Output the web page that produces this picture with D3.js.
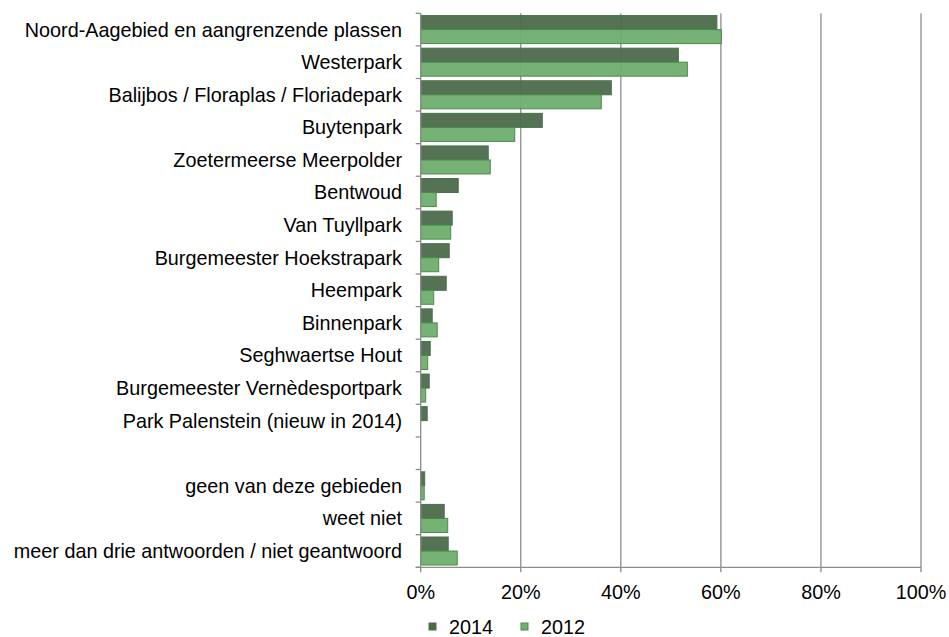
<!DOCTYPE html>
<html><head><meta charset="utf-8">
<script src="https://cdn.jsdelivr.net/npm/d3@7/dist/d3.min.js"></script>
<style>body{margin:0;background:#fff;} text{font-family:"Liberation Sans",Arial,sans-serif;}</style>
</head><body><svg id="c" width="949" height="637"></svg>
<script>
const categories = ["Noord-Aagebied en aangrenzende plassen","Westerpark","Balijbos / Floraplas / Floriadepark","Buytenpark","Zoetermeerse Meerpolder","Bentwoud","Van Tuyllpark","Burgemeester Hoekstrapark","Heempark","Binnenpark","Seghwaertse Hout","Burgemeester Vernèdesportpark","Park Palenstein (nieuw in 2014)","","geen van deze gebieden","weet niet","meer dan drie antwoorden / niet geantwoord"];
const values2014 = [59.2,51.5,38.1,24.3,13.5,7.5,6.3,5.7,5.1,2.3,1.9,1.7,1.3,null,0.8,4.7,5.5];
const values2012 = [60.1,53.3,36.1,18.8,13.9,3.1,6.0,3.6,2.6,3.3,1.4,1.0,0,null,0.7,5.4,7.3];
const seriesNames = ["2014","2012"];
const xTicks = [0,20,40,60,80,100];

const svg = d3.select("#c");
const pLeft = 420.7, pRight = 921, pTop = 13.3, pBottom = 567.3;
const fs = 19.8;
const x = d3.scaleLinear().domain([0,100]).range([pLeft,pRight]);
const keys = categories.map((c,i)=>"k"+i);
const y = d3.scaleBand().domain(keys).range([pTop,pBottom]).paddingInner(0.14).paddingOuter(0.07);
const yAll = d3.scaleBand().domain(keys).range([pTop,pBottom]);
const sub = d3.scaleBand().domain(seriesNames).range([0,y.bandwidth()]);
const colors = {"2014":"#4d6a4b","2012":"#6fae6e"};
const strokes = {"2014":"#46724a","2012":"#4a8c48"};

// gridlines
svg.append("g").selectAll("line").data(xTicks.filter(d=>d>0)).join("line")
  .attr("x1",d=>x(d)).attr("x2",d=>x(d)).attr("y1",pTop).attr("y2",pBottom)
  .attr("stroke","#8c8c8c").attr("stroke-width",1.3);

// bars
const series = [{name:"2014",vals:values2014},{name:"2012",vals:values2012}];
series.forEach(s=>{
  svg.append("g").selectAll("rect").data(s.vals.map((v,i)=>({v,i})).filter(d=>d.v)).join("rect")
    .attr("x",x(0)).attr("y",d=>y(keys[d.i])+sub(s.name))
    .attr("width",d=>x(d.v)-x(0)).attr("height",sub.bandwidth())
    .attr("fill",colors[s.name]).attr("fill-opacity",0.95)
    .attr("stroke",strokes[s.name]).attr("stroke-width",1);
});

// y axis
const ya = svg.append("g");
ya.append("line").attr("x1",pLeft).attr("x2",pLeft).attr("y1",pTop).attr("y2",pBottom).attr("stroke","#8c8c8c").attr("stroke-width",1.3);
const yTickPos = d3.range(keys.length+1).map(i=>pTop+i*yAll.step());
ya.selectAll(".t").data(yTickPos).join("line").attr("x1",pLeft-5).attr("x2",pLeft).attr("y1",d=>d).attr("y2",d=>d).attr("stroke","#8c8c8c").attr("stroke-width",1.3);
ya.selectAll("text").data(categories).join("text")
  .attr("x",402).attr("y",(d,i)=>yAll(keys[i])+yAll.bandwidth()/2).attr("dy","0.35em")
  .attr("text-anchor","end").attr("font-size",fs).attr("fill","#000").text(d=>d);

// x axis
const xa = svg.append("g");
xa.append("line").attr("x1",pLeft-5).attr("x2",pRight).attr("y1",pBottom).attr("y2",pBottom).attr("stroke","#8c8c8c").attr("stroke-width",1.3);
xa.selectAll(".t").data(xTicks).join("line").attr("x1",d=>x(d)).attr("x2",d=>x(d)).attr("y1",pBottom).attr("y2",pBottom+5).attr("stroke","#8c8c8c").attr("stroke-width",1.3);
xa.selectAll("text").data(xTicks).join("text").attr("x",d=>x(d)).attr("y",592).attr("dy","0.35em")
  .attr("text-anchor","middle").attr("font-size",fs).attr("fill","#000").text(d=>d+"%");

// legend
const leg = svg.append("g");
const legX = [429,521];
series.forEach((s,i)=>{
  leg.append("rect").attr("x",legX[i]).attr("y",623).attr("width",7).attr("height",7)
    .attr("fill",colors[s.name]).attr("stroke",strokes[s.name]).attr("stroke-width",1);
  leg.append("text").attr("x",legX[i]+20).attr("y",627).attr("dy","0.35em").attr("font-size",fs).attr("fill","#000").text(s.name);
});
</script></body></html>
